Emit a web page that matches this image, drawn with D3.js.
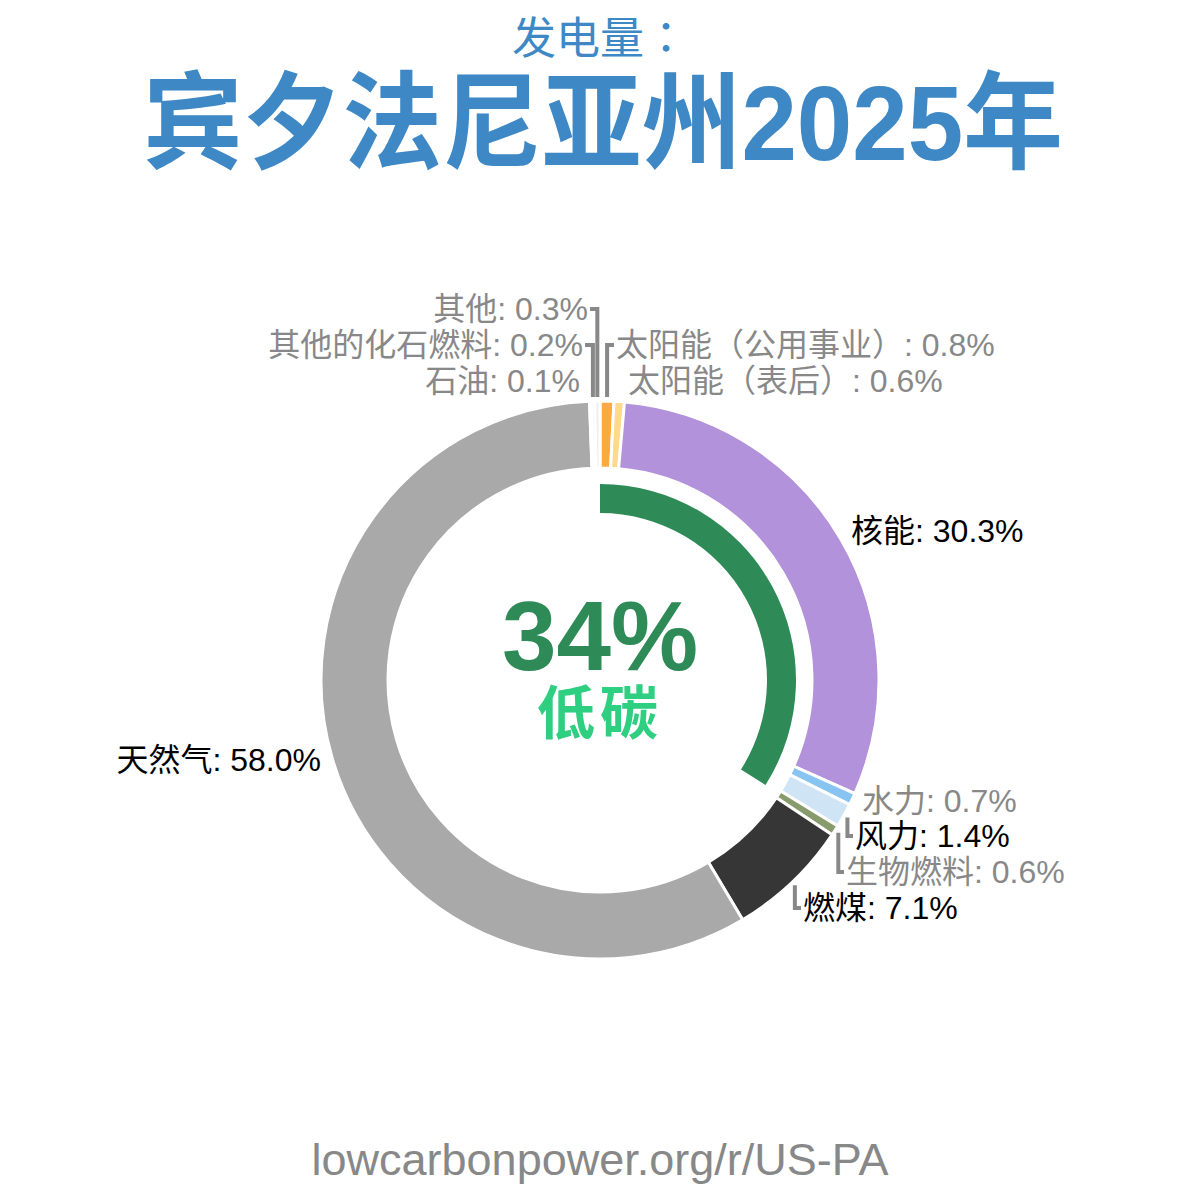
<!DOCTYPE html>
<html>
<head>
<meta charset="utf-8">
<script src="https://cdn.jsdelivr.net/npm/d3@7"></script>
<style>
  body { margin: 0; background: #fff; }
  text { font-family: "Liberation Sans", "Noto Sans CJK SC", sans-serif; }
</style>
</head>
<body>
<svg></svg>
<script>
// generation mix, clockwise from the top
let sources = ["太阳能（公用事业）", "太阳能（表后）", "核能", "水力", "风力", "生物燃料", "燃煤", "天然气", "石油", "其他的化石燃料", "其他"];
let shares = [0.8, 0.6, 30.3, 0.7, 1.4, 0.6, 7.1, 58.0, 0.1, 0.2, 0.3];
let colors = ["#ffa940", "#ffd98c", "#b292da", "#88c4f2", "#cfe4f5", "#889b6c", "#363636", "#a9a9a9", "#d8d8d8", "#e4e4e4", "#eeeeee"];
let lowCarbon = 34;

// label placement: anchor, x, baseline y, leader line or not
let labelLayout = {
    "太阳能（公用事业）": {anchor: "start", x: 616, y: 356, leader: true},
    "太阳能（表后）": {anchor: "start", x: 628, y: 392, leader: false},
    "核能": {anchor: "start", x: 851, y: 542, leader: false},
    "水力": {anchor: "start", x: 862, y: 812, leader: false},
    "风力": {anchor: "start", x: 855, y: 847, leader: true},
    "生物燃料": {anchor: "start", x: 846, y: 883, leader: true},
    "燃煤": {anchor: "start", x: 803, y: 919, leader: true},
    "天然气": {anchor: "end", x: 321, y: 771, leader: false},
    "石油": {anchor: "end", x: 580, y: 392, leader: false},
    "其他的化石燃料": {anchor: "end", x: 583, y: 356, leader: true},
    "其他": {anchor: "end", x: 588, y: 320, leader: true}
};

let svg = d3.select("svg").attr("width", 1200).attr("height", 1200),
    cx = 600, cy = 680,
    outerR = 279, innerR = 212;

let data = sources.map(function(s, i) { return {source: s, share: shares[i], color: colors[i]}; });

// titles
svg.append("text")
    .attr("x", 600).attr("y", 54)
    .attr("text-anchor", "middle")
    .style("font", "44px 'Noto Sans CJK JP'")
    .attr("fill", "#3e88c5")
    .text("发电量：");

svg.append("text")
    .attr("x", 143).attr("y", 160)
    .attr("textLength", 920)
    .attr("lengthAdjust", "spacingAndGlyphs")
    .style("font", "bold 106px 'Liberation Sans', 'Noto Sans CJK SC'")
    .attr("fill", "#3e88c5")
    .text("宾夕法尼亚州2025年");

let g = svg.append("g").attr("transform", "translate(" + cx + "," + cy + ")");

let pie = d3.pie().sort(null).value(function(d) { return d.share; });
let arcs = pie(data);

let arc = d3.arc().innerRadius(innerR).outerRadius(outerR);

g.selectAll(".slice")
    .data(arcs)
    .enter().append("path")
    .attr("class", "slice")
    .attr("d", arc)
    .attr("fill", function(d) { return d.data.color; })
    .attr("stroke", "#fff")
    .attr("stroke-width", 3);

// low carbon ring
g.append("path")
    .attr("d", d3.arc().innerRadius(167).outerRadius(196)
        .startAngle(0).endAngle(2 * Math.PI * lowCarbon / 100)())
    .attr("fill", "#2e8b57");

g.append("text")
    .attr("y", -10)
    .attr("text-anchor", "middle")
    .style("font", "bold 98px 'Liberation Sans'")
    .attr("fill", "#2e8b57")
    .text(lowCarbon + "%");

g.append("text")
    .attr("y", 54)
    .attr("text-anchor", "middle")
    .style("font", "bold 58px 'Noto Sans CJK SC'")
    .attr("letter-spacing", 5)
    .attr("fill", "#2ecf80")
    .text("低碳");

// labels and leader lines
let leaderR = outerR + 4;
arcs.forEach(function(d) {
    let L = labelLayout[d.data.source];
    let a = (d.startAngle + d.endAngle) / 2;
    let px = cx + leaderR * Math.sin(a),
        py = cy - leaderR * Math.cos(a);
    let midY = L.y - 11;
    if (L.leader) {
        let endX = L.anchor === "start" ? L.x - 2 : L.x + 2;
        svg.append("path")
            .attr("d", "M" + px + "," + py + "V" + midY + "H" + endX)
            .attr("fill", "none")
            .attr("stroke", "#888")
            .attr("stroke-width", 4);
    }
    svg.append("text")
        .attr("x", L.x).attr("y", L.y)
        .attr("text-anchor", L.anchor)
        .style("font-size", "32px")
        .attr("fill", d.data.share > 1 ? "#000" : "#888")
        .text(d.data.source + ": " + d.data.share.toFixed(1) + "%");
});

svg.append("text")
    .attr("x", 600).attr("y", 1175)
    .attr("text-anchor", "middle")
    .style("font-size", "45px")
    .attr("fill", "#888")
    .text("lowcarbonpower.org/r/US-PA");
</script>
</body>
</html>
